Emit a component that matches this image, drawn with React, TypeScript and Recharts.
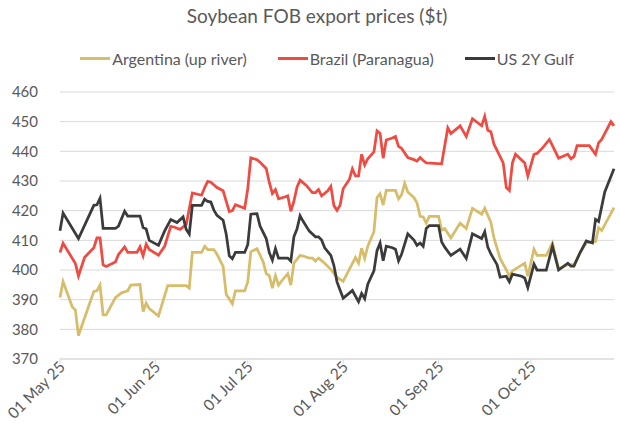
import React from 'react';
import { LineChart, Line, XAxis, YAxis, CartesianGrid, Legend } from 'recharts';

// day offsets from 01 May 25
const monthTicks = [0, 31, 61, 92, 123, 153];
const monthLabels = ['01 May 25', '01 Jun 25', '01 Jul 25', '01 Aug 25', '01 Sep 25', '01 Oct 25'];
const yTicks = [370, 380, 390, 400, 410, 420, 430, 440, 450, 460];

const argDays = [
  0, 1, 4, 5, 6, 8, 11, 12, 13, 14, 15, 18, 20, 22, 23, 26, 27, 28, 29, 32,
  35, 41, 42, 43, 46, 47, 48, 50, 51, 53, 54, 56, 57, 60, 61, 62, 64, 66, 67, 68,
  69, 70, 71, 72, 74, 75, 76, 78, 79, 81, 82, 83, 84, 86, 88, 90, 92, 94, 96, 97,
  98, 99, 100, 102, 103, 104, 105, 106, 109, 110, 111, 112, 113, 115, 116, 117, 118, 119, 120, 123,
  124, 125, 127, 130, 132, 134, 137, 138, 140, 141, 143, 146, 147, 151, 152, 154, 155, 158, 160, 162,
  165, 167, 169, 171, 174, 175, 176, 180,
];
const argVals = [
  390.7, 396.1, 387.5, 386.5, 377.9, 383.9, 392.8, 393.0, 394.9, 384.9, 384.9, 390.7, 392.3, 393.0, 394.9, 395.1, 386.0, 388.8, 387.0, 384.5,
  394.7, 394.7, 393.9, 405.9, 405.9, 408.0, 406.9, 406.9, 405.3, 401.2, 391.8, 388.6, 393.0, 393.0, 396.0, 406.1, 407.2, 402.8, 398.8, 398.1,
  393.9, 398.1, 394.9, 396.3, 398.8, 394.9, 402.3, 404.9, 404.7, 404.0, 404.0, 403.0, 404.0, 402.3, 400.2, 397.5, 396.2, 400.2, 404.2, 402.3,
  407.3, 403.9, 408.0, 412.9, 424.4, 425.7, 421.9, 426.8, 426.8, 424.0, 425.4, 429.2, 426.3, 424.4, 422.6, 418.1, 417.9, 415.8, 418.1, 418.1,
  413.5, 414.0, 410.8, 415.8, 414.0, 420.8, 418.8, 420.8, 416.0, 410.8, 403.9, 398.1, 399.7, 402.3, 397.9, 407.0, 404.9, 404.9, 409.1, 400.4,
  401.8, 401.8, 405.9, 409.1, 409.6, 414.3, 413.3, 421.0,
];

const braDays = [
  0, 1, 5, 6, 8, 11, 12, 13, 14, 15, 18, 19, 21, 22, 25, 26, 27, 28, 29, 32,
  34, 36, 37, 39, 41, 43, 46, 47, 48, 49, 51, 53, 55, 56, 57, 60, 61, 62, 64, 65,
  67, 68, 69, 70, 71, 73, 74, 75, 76, 77, 78, 80, 82, 83, 84, 85, 87, 88, 89, 90,
  91, 92, 94, 95, 96, 97, 98, 99, 100, 102, 103, 104, 105, 106, 108, 109, 110, 111, 113, 115,
  116, 117, 118, 119, 124, 126, 127, 130, 132, 134, 137, 138, 139, 140, 141, 143, 144, 145, 146, 147,
  148, 151, 152, 154, 155, 157, 159, 160, 162, 165, 166, 167, 168, 172, 174, 175, 176, 179, 180,
];
const braVals = [
  405.9, 409.0, 402.2, 398.0, 404.3, 407.5, 410.8, 410.8, 401.7, 401.2, 402.7, 405.2, 407.8, 405.9, 405.9, 407.8, 404.8, 408.7, 406.9, 405.0,
  408.0, 414.7, 414.5, 413.7, 415.3, 426.0, 425.2, 427.8, 429.9, 429.6, 427.8, 426.7, 419.7, 420.0, 422.0, 420.8, 427.3, 437.8, 437.2, 436.3,
  434.2, 429.5, 425.8, 427.1, 424.0, 424.6, 425.0, 419.8, 423.2, 427.9, 430.3, 428.5, 426.1, 426.1, 427.1, 425.0, 426.7, 428.2, 421.7, 420.1,
  421.8, 427.4, 430.5, 434.1, 431.7, 431.7, 439.0, 435.4, 437.5, 439.8, 446.9, 446.0, 437.7, 443.8, 444.5, 445.0, 441.7, 441.0, 437.9, 437.2,
  436.7, 437.9, 436.9, 436.1, 435.8, 447.9, 446.0, 448.6, 445.0, 451.0, 448.6, 451.8, 447.1, 446.6, 442.4, 438.2, 436.1, 427.8, 426.8, 436.1,
  439.0, 436.1, 431.7, 439.0, 439.3, 441.4, 444.0, 441.9, 437.7, 439.0, 437.5, 438.2, 441.9, 441.9, 439.0, 442.9, 444.0, 450.0, 448.6,
];

const usDays = [
  0, 1, 6, 11, 12, 13, 14, 18, 19, 21, 22, 26, 27, 28, 29, 32, 34, 36, 38, 40,
  41, 42, 43, 46, 47, 48, 49, 50, 51, 53, 54, 55, 56, 57, 60, 61, 62, 64, 65, 67,
  68, 69, 70, 71, 74, 75, 76, 77, 78, 79, 81, 83, 84, 85, 86, 88, 89, 90, 92, 94,
  95, 97, 98, 99, 100, 102, 103, 104, 105, 106, 108, 109, 110, 111, 113, 115, 116, 117, 118, 119,
  120, 123, 124, 125, 127, 130, 132, 134, 137, 138, 139, 140, 142, 143, 145, 146, 147, 150, 151, 152,
  154, 155, 158, 160, 162, 165, 166, 167, 169, 171, 173, 174, 175, 177, 180,
];
const usVals = [
  413.2, 419.2, 410.6, 421.8, 422.0, 424.2, 414.0, 414.0, 414.8, 419.8, 418.2, 418.2, 414.3, 413.8, 410.0, 408.3, 413.2, 417.0, 416.0, 417.9,
  413.7, 412.1, 421.8, 421.8, 423.9, 423.1, 422.9, 420.2, 418.4, 416.8, 412.1, 404.8, 403.8, 405.9, 405.9, 408.5, 418.8, 419.0, 414.8, 410.6,
  405.9, 403.3, 407.2, 404.0, 404.0, 403.0, 411.2, 413.8, 418.3, 416.4, 413.1, 411.2, 411.2, 410.1, 407.5, 404.9, 401.5, 396.0, 390.5, 392.2,
  393.1, 389.3, 392.1, 390.3, 395.2, 399.7, 406.5, 409.1, 403.1, 408.0, 407.5, 407.0, 403.1, 405.4, 412.2, 410.1, 408.3, 409.1, 408.0, 414.0,
  415.0, 415.0, 409.5, 407.7, 404.9, 407.0, 403.9, 412.2, 410.6, 412.9, 407.7, 405.4, 401.8, 397.6, 397.9, 396.0, 398.6, 397.9, 397.3, 394.1,
  402.0, 400.0, 400.0, 408.0, 400.0, 402.3, 401.3, 401.3, 405.9, 409.8, 409.1, 417.1, 416.4, 426.3, 434.1,
];

const toRows = (days: number[], vals: number[]) => days.map((d, i) => ({ day: d, value: vals[i] }));

const series = [
  { name: 'Argentina (up river)', color: '#D7BC6A', data: toRows(argDays, argVals) },
  { name: 'Brazil (Paranagua)', color: '#EE4B43', data: toRows(braDays, braVals) },
  { name: 'US 2Y Gulf', color: '#3B3B3B', data: toRows(usDays, usVals) },
];

const FONT = 'Lato, "Open Sans", sans-serif';
const TEXT = '#595959';

const XTick = (props: any) => {
  const { x, y, payload } = props;
  const i = monthTicks.indexOf(payload.value);
  return (
    <g transform={`translate(${x + 6},${y + 2})`}>
      <text
        x={0}
        y={0}
        transform="rotate(-45)"
        textAnchor="end"
        fontSize={15.5}
        fontFamily={FONT}
        fill={TEXT}
      >
        {monthLabels[i] ?? ''}
      </text>
    </g>
  );
};

const renderLegend = () => (
  <div
    style={{
      display: 'flex',
      justifyContent: 'center',
      gap: 31,
      paddingLeft: 34,
      fontFamily: FONT,
      fontSize: 16,
      color: TEXT,
    }}
  >
    {series.map((s) => (
      <div key={s.name} style={{ display: 'flex', alignItems: 'center' }}>
        <span style={{ display: 'inline-block', width: 30, height: 3, background: s.color, marginRight: 2 }} />
        <span>{s.name}</span>
      </div>
    ))}
  </div>
);

export default function App() {
  return (
    <div style={{ position: 'absolute', left: 0, top: 0, width: 620, height: 440, background: '#fff' }}>
      <div
        style={{
          position: 'absolute',
          top: 4,
          left: 0,
          width: 634,
          textAlign: 'center',
          fontFamily: FONT,
          fontSize: 19,
          color: TEXT,
        }}
      >
        Soybean FOB export prices ($t)
      </div>
      <LineChart width={620} height={440} margin={{ top: 73, right: 6, bottom: 6, left: 20 }}>
        <CartesianGrid horizontal vertical={false} stroke="#D9D9D9" strokeWidth={1} />
        <XAxis
          dataKey="day"
          type="number"
          domain={[0, 180]}
          ticks={monthTicks}
          interval={0}
          tick={<XTick />}
          tickLine={{ stroke: '#D9D9D9' }}
          tickSize={5}
          axisLine={{ stroke: '#D9D9D9' }}
          height={75}
        />
        <YAxis
          type="number"
          domain={[370, 460]}
          ticks={yTicks}
          interval={0}
          width={40}
          axisLine={false}
          tickLine={false}
          tickMargin={16}
          tick={{ fontSize: 15, fontFamily: FONT, fill: TEXT }}
        />
        <Legend verticalAlign="top" content={renderLegend} wrapperStyle={{ top: 49, left: 0, width: 620 }} />
        {series.map((s) => (
          <Line
            key={s.name}
            data={s.data}
            dataKey="value"
            name={s.name}
            type="linear"
            stroke={s.color}
            strokeWidth={2.75}
            dot={false}
            isAnimationActive={false}
          />
        ))}
      </LineChart>
    </div>
  );
}
